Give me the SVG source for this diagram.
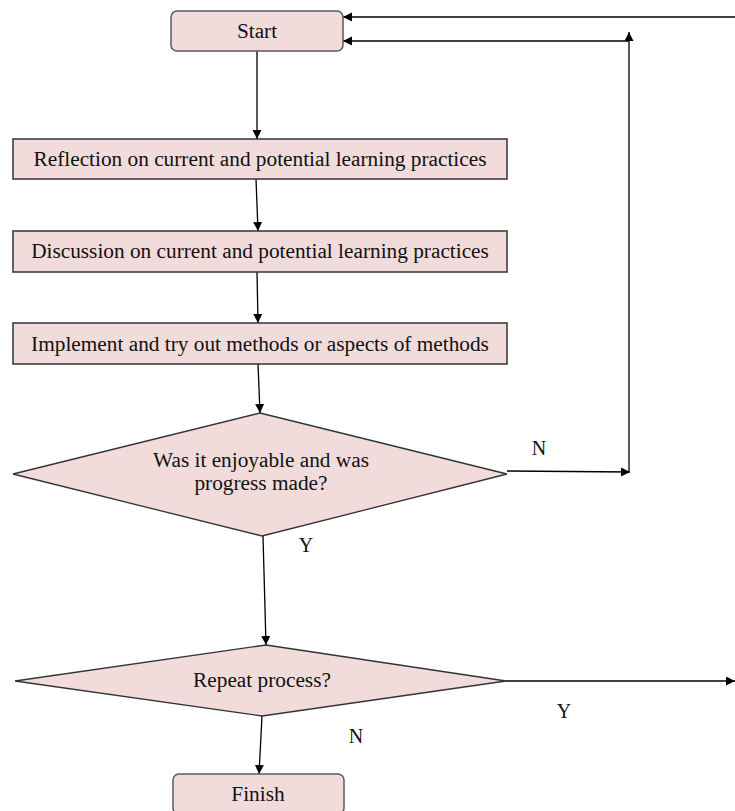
<svg xmlns="http://www.w3.org/2000/svg" width="735" height="811" viewBox="0 0 735 811">
  <style>
    .box { fill: #f2dcdb; stroke: #333333; stroke-width: 1.5; }
    .term { fill: #f2dcdb; stroke: #595959; stroke-width: 1.5; }
    .dec { fill: #f2dcdb; stroke: #333333; stroke-width: 1.3; }
    .lbl { font-family: "Liberation Serif", "Times New Roman", serif; font-size: 21.3px; fill: #111111; text-anchor: middle; }
    .edge { fill: none; stroke: #000000; stroke-width: 1.3; }
    .tag { font-family: "Liberation Serif", "Times New Roman", serif; font-size: 20px; fill: #111111; text-anchor: middle; }
  </style>
  <defs>
    <marker id="arrow" markerUnits="userSpaceOnUse" markerWidth="10" markerHeight="10" refX="9" refY="4.5" orient="auto">
      <path d="M0,0 L9,4.5 L0,9 z" fill="#000000"/>
    </marker>
  </defs>

  <rect width="735" height="811" fill="#ffffff"/>

  <!-- connectors -->
  <g id="connectors">
    <line class="edge" x1="735" y1="17" x2="343" y2="17" marker-end="url(#arrow)"/>
    <line class="edge" x1="629" y1="41" x2="343" y2="41" marker-end="url(#arrow)"/>
    <line class="edge" x1="629" y1="472" x2="629" y2="32" marker-end="url(#arrow)"/>
    <line class="edge" x1="257" y1="51" x2="257" y2="139" marker-end="url(#arrow)"/>
    <line class="edge" x1="256" y1="179" x2="258" y2="231" marker-end="url(#arrow)"/>
    <line class="edge" x1="257" y1="272" x2="258" y2="323" marker-end="url(#arrow)"/>
    <line class="edge" x1="258" y1="364" x2="260" y2="413" marker-end="url(#arrow)"/>
    <line class="edge" x1="507" y1="471" x2="630" y2="472" marker-end="url(#arrow)"/>
    <line class="edge" x1="263" y1="536" x2="266" y2="645" marker-end="url(#arrow)"/>
    <line class="edge" x1="506" y1="681" x2="735" y2="681" marker-end="url(#arrow)"/>
    <line class="edge" x1="262" y1="716" x2="259" y2="774" marker-end="url(#arrow)"/>
    <text class="tag" x="539" y="455">N</text>
    <text class="tag" x="306" y="552">Y</text>
    <text class="tag" x="564" y="718">Y</text>
    <text class="tag" x="356" y="743">N</text>
  </g>

  <g id="start">
    <rect class="term" x="171" y="11" width="172" height="40" rx="6"/>
    <text class="lbl" x="257" y="38">Start</text>
  </g>

  <g id="reflection">
    <rect class="box" x="13" y="139" width="494" height="40"/>
    <text class="lbl" x="260" y="166">Reflection on current and potential learning practices</text>
  </g>

  <g id="discussion">
    <rect class="box" x="13" y="231" width="494" height="41"/>
    <text class="lbl" x="260" y="258">Discussion on current and potential learning practices</text>
  </g>

  <g id="implement">
    <rect class="box" x="13" y="323" width="494" height="41"/>
    <text class="lbl" x="260" y="351">Implement and try out methods or aspects of methods</text>
  </g>

  <g id="enjoyable">
    <polygon class="dec" points="260,413 507,474 262,536 13,474"/>
    <text class="lbl" x="261" y="467" font-size="21px">Was it enjoyable and was</text>
    <text class="lbl" x="261" y="490" font-size="21px">progress made?</text>
  </g>

  <g id="repeat">
    <polygon class="dec" points="266,645 506,681 262,716 15,681"/>
    <text class="lbl" x="262" y="687" font-size="20.6px">Repeat process?</text>
  </g>

  <g id="finish">
    <rect class="term" x="173" y="774" width="171" height="40" rx="6"/>
    <text class="lbl" x="258" y="801">Finish</text>
  </g>
</svg>
